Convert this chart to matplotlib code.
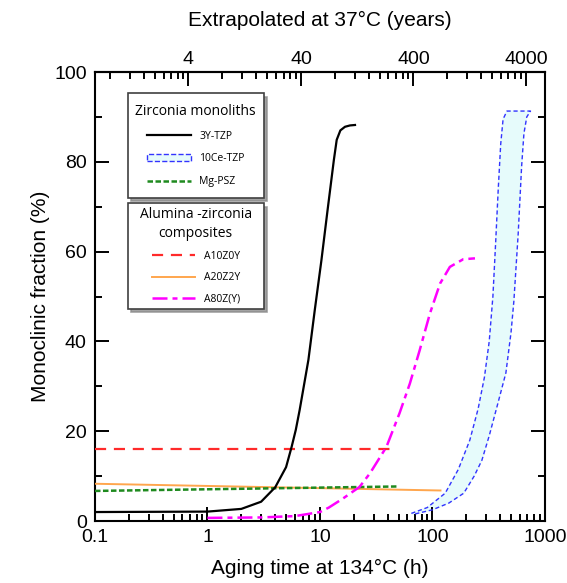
import numpy as np
import matplotlib.pyplot as plt
from matplotlib.patches import Patch
from matplotlib.ticker import FixedLocator, NullFormatter, LogLocator

plt.rcParams['font.family'] = ['Liberation Sans', 'DejaVu Sans']

# aging time (h) and monoclinic fraction (%)
t_3y = [0.1, 1, 2, 3, 4, 5, 5.6, 6.1, 6.6, 7.9, 9, 10.3, 11.7, 13.3, 14.1, 15.2, 16.7, 18.5, 20.5]
m_3y = [2, 2.1, 2.7, 4.3, 7.5, 12, 16.5, 20.3, 24.7, 35.9, 47, 58, 69.3, 80.4, 84.9, 87, 87.8, 88.1, 88.2]

t_ce_lo = [65, 90, 130, 170, 215, 255, 290, 320, 345, 365, 385, 405, 425, 460]
m_ce_lo = [1.7, 3, 6.2, 11.5, 18, 25, 32, 40, 50, 62, 74, 84, 89.5, 91.3]
t_ce_hi = [68, 100, 140, 190, 235, 275, 320, 380, 450, 500, 530, 579, 621, 651, 690, 745]
m_ce_hi = [1.5, 2.5, 4, 6.2, 10, 13.5, 19, 26, 33, 42, 49, 64, 79, 86.3, 90, 91.3]

t_mg = [0.1, 50]
m_mg = [6.7, 7.7]

t_a10 = [0.1, 47]
m_a10 = [16, 16]

t_a20 = [0.1, 118]
m_a20 = [8.3, 6.8]

t_a80 = [1, 3, 6, 10, 12, 16, 22.5, 27.8, 39, 51, 63, 77, 95, 117, 143, 188, 239]
m_a80 = [0.7, 0.8, 1.1, 2, 3, 5, 7.6, 10.6, 16.5, 24, 30.6, 38, 46.2, 52.9, 56.6, 58.3, 58.5]

k_years = 5.9  # hours at 134C -> years at 37C
top_major = [4, 40, 400, 4000]

fig = plt.figure(figsize=(5.67, 5.83), dpi=100)
ax = fig.add_axes([0.1675, 0.1063, 0.7935, 0.7702])

# 10Ce-TZP band
band_t = t_ce_lo + t_ce_hi[::-1]
band_m = m_ce_lo + m_ce_hi[::-1]
ax.fill(band_t, band_m, color='#e6fbfb', zorder=1)
ax.plot(band_t, band_m, color='#3333ff', lw=1, ls=(0, (3, 2)), zorder=2)

l_3y, = ax.plot(t_3y, m_3y, color='k', lw=1.6, zorder=4)
l_a10, = ax.plot(t_a10, m_a10, color='#ff2a2a', lw=1.6, ls=(0, (5, 3.5)), zorder=3)
l_a20, = ax.plot(t_a20, m_a20, color='#ffa64d', lw=1.4, zorder=3)
l_mg, = ax.plot(t_mg, m_mg, color='#1f8a1f', lw=1.8, ls=(0, (2.2, 1)), zorder=3)
l_a80, = ax.plot(t_a80, m_a80, color='#ff00ff', lw=1.8, ls=(0, (6, 2, 2, 2)), zorder=3)
p_ce = Patch(facecolor='#e6fbfb', edgecolor='#3333ff', linestyle='--', lw=1)

ax.set_xscale('log')
ax.set_xlim(0.1, 1000)
ax.set_ylim(0, 100)
ax.set_yticks([0, 20, 40, 60, 80, 100])
ax.yaxis.set_minor_locator(FixedLocator([10, 30, 50, 70, 90]))
ax.set_xticks([0.1, 1, 10, 100, 1000])
ax.set_xticklabels(['0.1', '1', '10', '100', '1000'])
ax.xaxis.set_minor_locator(LogLocator(base=10, subs=np.arange(2, 10)))
ax.xaxis.set_minor_formatter(NullFormatter())
ax.tick_params(which='both', direction='in', width=1.4, labelsize=14,
               right=True, top=False)
ax.tick_params(which='major', length=10, pad=6)
ax.tick_params(which='minor', length=5)
for s in ax.spines.values():
    s.set_linewidth(1.5)

ax.set_xlabel('Aging time at 134°C (h)', fontsize=15, labelpad=9)
ax.set_ylabel('Monoclinic fraction (%)', fontsize=15, labelpad=3)

sec = ax.secondary_xaxis('top', functions=(lambda h: h * k_years, lambda y: y / k_years))
sec.xaxis.set_major_locator(FixedLocator(top_major))
sec.xaxis.set_minor_locator(FixedLocator([d * m / 10 for d in [4, 40, 400, 4000] for m in range(2, 10)]))
sec.set_xticklabels([str(v) for v in top_major])
sec.xaxis.set_minor_formatter(NullFormatter())
sec.tick_params(which='both', direction='in', width=1.4, labelsize=14)
sec.tick_params(which='major', length=10, pad=3)
sec.tick_params(which='minor', length=5)
sec.spines['top'].set_linewidth(1.5)
sec.set_xlabel('Extrapolated at 37°C (years)', fontsize=15, labelpad=18)

shadow = {'ox': 2.5, 'oy': -2.5, 'color': '0.55', 'alpha': 0.8}
leg_kw = dict(loc='upper left', borderaxespad=0, mode='expand',
              prop={'family': 'Open Sans', 'size': 7.5},
              title_fontproperties={'family': 'Open Sans', 'size': 10},
              handlelength=4.2, handletextpad=0.8,
              fancybox=False, framealpha=1, edgecolor='0.25', shadow=shadow)

leg1 = ax.legend([l_3y, p_ce, l_mg], ['3Y-TZP', '10Ce-TZP', 'Mg-PSZ'],
                 title='Zirconia monoliths',
                 bbox_to_anchor=(0.073, 0.5, 0.302, 0.453),
                 labelspacing=1.15, borderpad=1.0, **leg_kw)
leg1._legend_handle_box.mode = 'fixed'
leg1.get_frame().set_linewidth(1.2)
ax.add_artist(leg1)

leg2 = ax.legend([l_a10, l_a20, l_a80], ['A10Z0Y', 'A20Z2Y', 'A80Z(Y)'],
                 title='Alumina -zirconia\ncomposites',
                 bbox_to_anchor=(0.073, 0.3, 0.302, 0.408),
                 labelspacing=1.0, borderpad=0.4, **leg_kw)
leg2._legend_handle_box.mode = 'fixed'
leg2.get_frame().set_linewidth(1.2)
leg2.get_title().set_multialignment('center')
leg2.get_title().set_linespacing(1.3)

fig.savefig('out.png', dpi=100)
